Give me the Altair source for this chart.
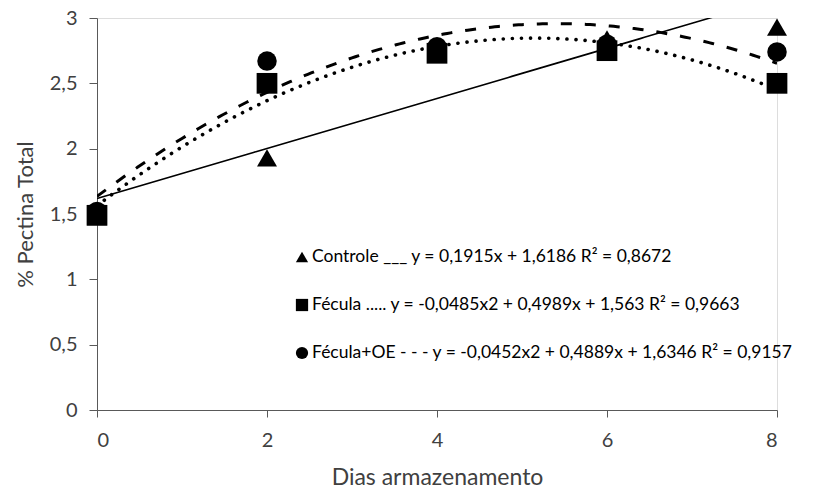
import altair as alt
import pandas as pd

# Storage days and measured total pectin (%) per treatment
dias = [0, 2, 4, 6, 8]
controle = [1.48, 1.93, 2.74, 2.84, 2.93]
fecula = [1.49, 2.50, 2.73, 2.75, 2.50]
fecula_oe = [1.52, 2.67, 2.78, 2.80, 2.74]

series = ["Controle", "Fécula", "Fécula+OE"]

# Fitted trend lines: y = a*x^2 + b*x + c
coef_a = [0.0, -0.0485, -0.0452]
coef_b = [0.1915, 0.4989, 0.4889]
coef_c = [1.6186, 1.563, 1.6346]

legend_lines = [
    "Controle ___ y = 0,1915x + 1,6186 R² = 0,8672",
    "Fécula ..... y = -0,0485x2 + 0,4989x + 1,563 R² = 0,9663",
    "Fécula+OE - - - y = -0,0452x2 + 0,4889x + 1,6346 R² = 0,9157",
]
legend_shapes = ["triangle-up", "square", "circle"]

FONT = "Lato"
TEXT = "#404040"
AXIS = "#595959"

x_scale = alt.Scale(domain=[0, 8], nice=False, zero=False)
y_scale = alt.Scale(domain=[0, 3], nice=False)

x_axis = alt.Axis(
    title="Dias armazenamento", values=[0, 2, 4, 6, 8], grid=False,
    domainColor=AXIS, tickColor=AXIS, tickSize=7, labelPadding=13,
    labelFont=FONT, labelFontSize=20, labelColor=TEXT,
    titleFont=FONT, titleFontSize=23, titleFontWeight="normal", titleColor=TEXT,
    titlePadding=16,
)
y_axis = alt.Axis(
    title="% Pectina Total", values=[0, 0.5, 1, 1.5, 2, 2.5, 3], grid=False,
    labelExpr="replace(toString(datum.value), '.', ',')",
    domainColor=AXIS, tickColor=AXIS, tickSize=8, labelPadding=12,
    labelFont=FONT, labelFontSize=20, labelColor=TEXT,
    titleFont=FONT, titleFontSize=22, titleFontWeight="normal", titleColor=TEXT,
    titlePadding=12,
)


def curve(i, **style):
    return (
        alt.Chart(alt.sequence(0, 8.0001, 0.04, as_="dia"))
        .transform_calculate(
            valor=f"{coef_a[i]}*datum.dia*datum.dia + {coef_b[i]}*datum.dia + {coef_c[i]}"
        )
        .mark_line(color="black", clip=True, **style)
        .encode(
            x=alt.X("dia:Q", scale=x_scale, axis=x_axis),
            y=alt.Y("valor:Q", scale=y_scale, axis=y_axis),
        )
    )


lines = [
    curve(0, strokeWidth=1.6),
    curve(1, strokeWidth=3.6, strokeDash=[0.1, 9], strokeCap="round"),
    curve(2, strokeWidth=3, strokeDash=[11, 13]),
]

# Measured points: triangles first, then circles, squares on top
valores = [controle, fecula_oe, fecula]
shapes = ["triangle-up", "circle", "square"]
sizes = [400, 380, 430]
points = []
for vals, shape, size in zip(valores, shapes, sizes):
    df = pd.DataFrame({"dia": dias, "valor": vals})
    points.append(
        alt.Chart(df)
        .mark_point(shape=shape, filled=True, color="black", opacity=1, size=size)
        .encode(
            x=alt.X("dia:Q", scale=x_scale, axis=x_axis),
            y=alt.Y("valor:Q", scale=y_scale, axis=y_axis),
        )
    )

# In-plot key: symbol plus equation text per treatment
labels = []
for k, (txt, shape) in enumerate(zip(legend_lines, legend_shapes)):
    row_y = 239 + 48 * k
    labels.append(
        alt.Chart(pd.DataFrame({"t": [txt]}))
        .mark_point(shape=shape, filled=True, color="black", opacity=1, size=150)
        .encode(x=alt.value(205), y=alt.value(row_y))
    )
    labels.append(
        alt.Chart(pd.DataFrame({"t": [txt]}))
        .mark_text(align="left", baseline="middle", font=FONT, fontSize=17.5, color="black")
        .encode(text="t:N", x=alt.value(215), y=alt.value(row_y))
    )

chart = (
    alt.layer(*lines, *points, *labels)
    .properties(
        width=680,
        height=392,
        autosize=alt.AutoSizeParams(type="none"),
        padding={"left": 97, "top": 18, "right": 39, "bottom": 81},
    )
    .configure_view(stroke=None)
    .configure(background="white")
)

chart.save("out.html", embed_options={"renderer": "svg", "actions": False})
